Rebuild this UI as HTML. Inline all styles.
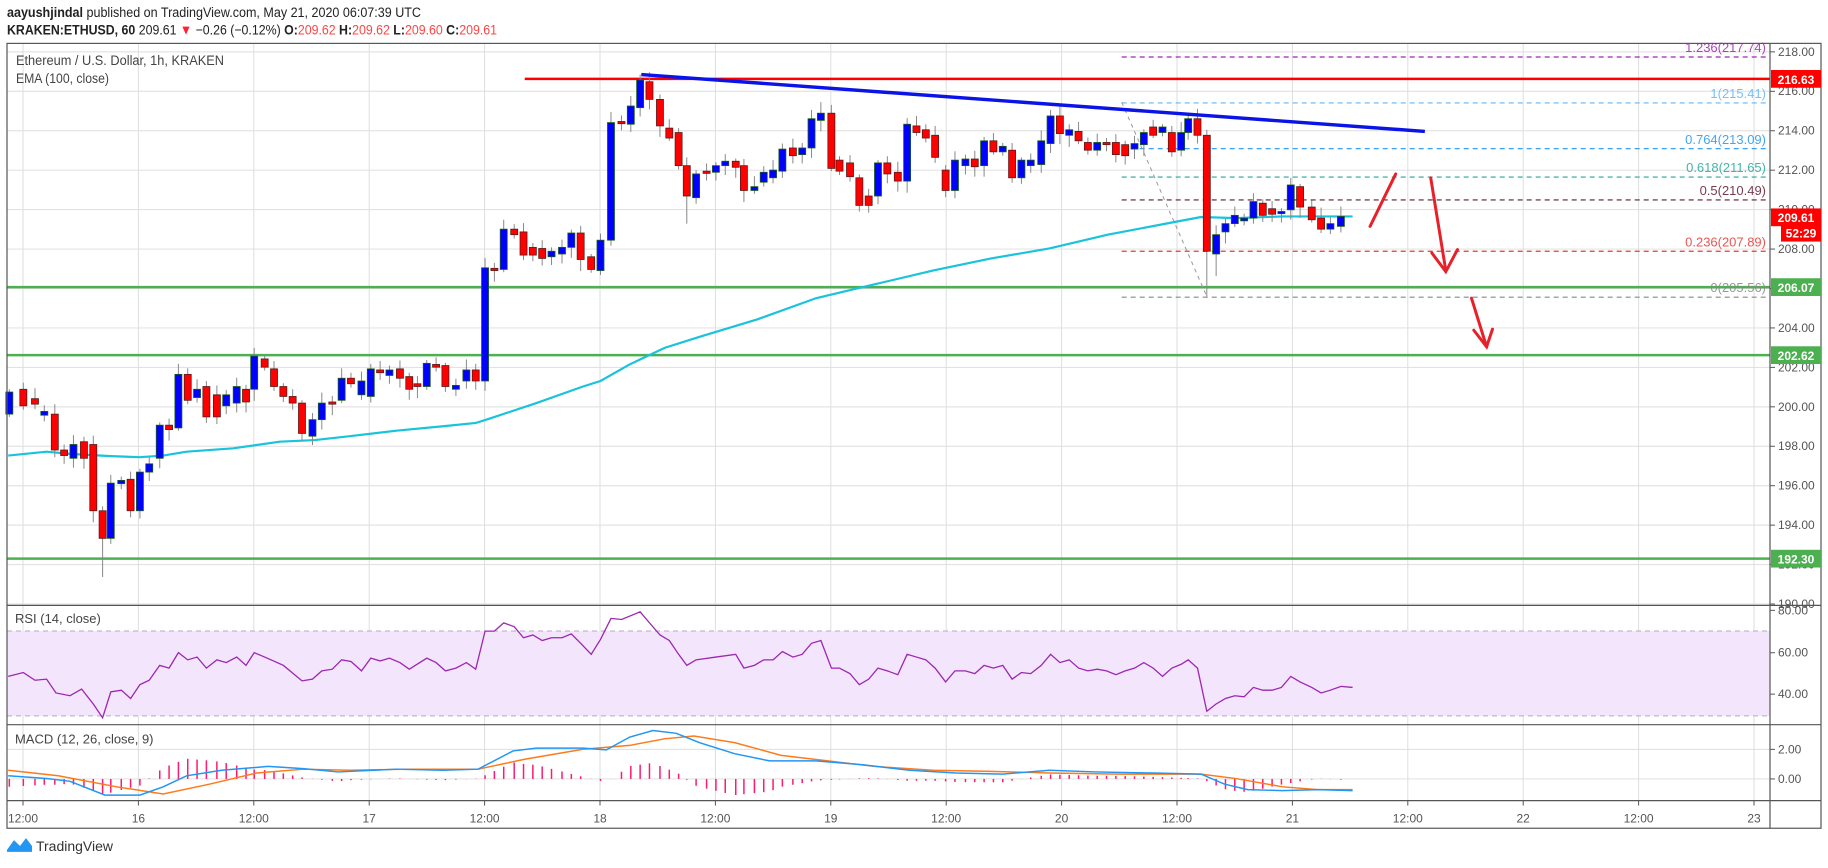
<!DOCTYPE html>
<html><head><meta charset="utf-8">
<style>
html,body{margin:0;padding:0;background:#fff;}
svg{display:block;font-family:"Liberation Sans",sans-serif;}
</style></head>
<body>
<svg id="s" width="1828" height="868" xmlns="http://www.w3.org/2000/svg">
<rect width="1828" height="868" fill="#fff"/>
<g transform="scale(1,0.986)">
<g id="grid"></g>
<rect x="7" y="640" width="1763" height="86" fill="#f3e5fc"/>
<line x1="7" y1="640" x2="1770" y2="640" stroke="#b9a6c4" stroke-dasharray="5,4"/>
<line x1="7" y1="726" x2="1770" y2="726" stroke="#b9a6c4" stroke-dasharray="5,4"/>
<g id="plot"></g>
<rect x="7" y="44" width="1814" height="796" fill="none" stroke="#555" stroke-width="1.2"/>
<line x1="1770" y1="44" x2="1770" y2="840" stroke="#555" stroke-width="1.2"/>
<line x1="7" y1="614" x2="1821" y2="614" stroke="#555" stroke-width="1.2"/>
<line x1="7" y1="735" x2="1821" y2="735" stroke="#555" stroke-width="1.2"/>
<line x1="7" y1="812" x2="1821" y2="812" stroke="#555" stroke-width="1.2"/>
<text x="7" y="17" font-size="14" fill="#222" textLength="414" lengthAdjust="spacingAndGlyphs"><tspan font-weight="bold">aayushjindal</tspan> published on TradingView.com, May 21, 2020 06:07:39 UTC</text>
<text x="7" y="35" font-size="14" fill="#222" textLength="490" lengthAdjust="spacingAndGlyphs"><tspan font-weight="bold">KRAKEN:ETHUSD, 60</tspan> 209.61 <tspan fill="#f23">▼</tspan> −0.26 (−0.12%) <tspan font-weight="bold">O:</tspan><tspan fill="#f44">209.62</tspan> <tspan font-weight="bold">H:</tspan><tspan fill="#f44">209.62</tspan> <tspan font-weight="bold">L:</tspan><tspan fill="#f44">209.60</tspan> <tspan font-weight="bold">C:</tspan><tspan fill="#f44">209.61</tspan></text>
<text x="16" y="66" font-size="14" fill="#444" textLength="208" lengthAdjust="spacingAndGlyphs">Ethereum / U.S. Dollar, 1h, KRAKEN</text>
<text x="16" y="84" font-size="14" fill="#444" textLength="93" lengthAdjust="spacingAndGlyphs">EMA (100, close)</text>
<text x="15" y="632" font-size="13" fill="#444">RSI (14, close)</text>
<text x="15" y="754" font-size="13" fill="#444">MACD (12, 26, close, 9)</text>
<g id="axis" font-size="12" fill="#555"></g>
<path d="M7 862 L14 852 L20 858 L26 850 L32 858 L32 864 L7 864 Z" fill="#2196f3"/>
<text x="36" y="863" font-size="14" fill="#333">TradingView</text>
</g>
</svg>
<script>
const NS="http://www.w3.org/2000/svg";
function el(p,t,a,txt){const e=document.createElementNS(NS,t);for(const k in a)e.setAttribute(k,a[k]);if(txt!==undefined)e.textContent=txt;document.getElementById(p).appendChild(e);return e;}
const X=x=>x*1.166, Y=y=>y*0.56;
const py=p=>52.6+(218-p)*20;
const tl=["12:00","16","12:00","17","12:00","18","12:00","19","12:00","20","12:00","21","12:00","22","12:00","23"];
tl.forEach((l,i)=>{const x=23+i*115.4;el("grid","line",{x1:x,y1:44,x2:x,y2:812,stroke:"#dedede"});el("axis","line",{x1:x,y1:812,x2:x,y2:817,stroke:"#555"});el("axis","text",{x:x,y:834,"text-anchor":"middle"},l);});
for(let p=190;p<=218;p+=2){const y=py(p);el("grid","line",{x1:7,y1:y,x2:1770,y2:y,stroke:"#dedede"});el("axis","line",{x1:1770,y1:y,x2:1775,y2:y,stroke:"#555"});el("axis","text",{x:1778,y:y+4},p.toFixed(2));}
[[60,662],[40,704]].forEach(a=>el("grid","line",{x1:7,y1:a[1],x2:1770,y2:a[1],stroke:"#d6cce0"}));
[["80.00",619],["60.00",662],["40.00",704],["2.00",760],["0.00",790]].forEach(a=>{el("axis","text",{x:1778,y:a[1]+4},a[0]);el("axis","line",{x1:1770,y1:a[1],x2:1775,y2:a[1],stroke:"#555"});});
[760,790].forEach(y=>el("grid","line",{x1:7,y1:y,x2:1770,y2:y,stroke:"#dedede"}));
el("plot","line",{x1:X(450),y1:80,x2:1770,y2:80,stroke:"#f00","stroke-width":2.5});
[291.2,360.2,566.6].forEach(y=>el("plot","line",{x1:7,y1:y,x2:1770,y2:y,stroke:"#4caf50","stroke-width":2.5}));
const fib=[[57.8,"#9c27b0","1.236(217.74)"],[104.4,"#64b5f6","1(215.41)"],[150.8,"#2196f3","0.764(213.09)"],[179.6,"#26a69a","0.618(211.65)"],[202.8,"#5d1a2e","0.5(210.49)"],[254.8,"#e53935","0.236(207.89)"],[301.4,"#888","0(205.56)"]];
fib.forEach(f=>{el("plot","line",{x1:X(962),y1:f[0],x2:1766,y2:f[0],stroke:f[1],"stroke-dasharray":"5,4","stroke-width":1.2});el("plot","text",{x:1766,y:f[0]-5,"text-anchor":"end","font-size":13,fill:f[1],opacity:0.85},f[2]);});
el("plot","line",{x1:X(962),y1:Y(185),x2:X(1035),y2:Y(537),stroke:"#999","stroke-dasharray":"4,4"});
const ema=[[7,825],[40,818],[60,822],[95,826],[120,828],[140,825],[160,818],[200,812],[240,800],[270,797],[300,790],[340,780],[380,772],[408,766],[420,758],[460,730],[500,700],[515,690],[540,660],[570,630],[600,610],[650,578],[700,540],[750,515],[800,490],[850,468],[900,450],[950,425],[1000,405],[1030,393],[1060,395],[1100,392],[1160,392]];
const pts=a=>a.map(p=>X(p[0]).toFixed(1)+","+Y(p[1]).toFixed(1)).join(" ");
el("plot","polyline",{points:pts(ema),fill:"none",stroke:"#19c3dc","stroke-width":2.2});
const c=[[8,710,750,'b'],[20,705,735,'r'],[30,722,732,'r'],[38,745,752,'b'],[47,750,815,'r'],[55,815,825,'r'],[63,805,830,'b'],[72,800,830,'r'],[80,805,925,'r'],[88,925,975,'r'],[95,875,975,'b'],[104,870,876,'b'],[112,868,925,'r'],[120,855,925,'b'],[128,840,855,'b'],[137,770,830,'b'],[145,770,778,'r'],[153,678,775,'b'],[161,678,725,'r'],[169,705,720,'b'],[177,700,755,'r'],[186,715,755,'r'],[194,715,735,'b'],[203,700,730,'b'],[211,705,728,'r'],[218,645,705,'b'],[227,650,665,'r'],[235,668,700,'r'],[243,700,718,'r'],[251,718,730,'r'],[259,730,785,'r'],[268,760,790,'b'],[276,730,760,'b'],[285,728,732,'r'],[293,685,725,'b'],[301,685,695,'r'],[310,690,715,'b'],[318,668,718,'b'],[326,670,675,'r'],[334,670,680,'b'],[343,668,685,'r'],[351,682,705,'r'],[358,695,700,'r'],[366,658,700,'b'],[374,660,665,'r'],[382,662,700,'r'],[391,698,705,'b'],[400,670,690,'b'],[408,670,690,'r'],[416,485,690,'b'],[424,486,490,'r'],[432,415,488,'b'],[441,415,425,'r'],[449,420,462,'r'],[457,448,462,'r'],[465,450,468,'r'],[473,455,465,'b'],[482,448,460,'b'],[490,422,448,'b'],[498,422,470,'r'],[507,465,488,'r'],[515,435,490,'b'],[524,222,435,'b'],[533,220,224,'r'],[541,192,225,'b'],[549,145,195,'b'],[557,148,180,'r'],[566,180,228,'r'],[574,232,250,'r'],[582,240,300,'r'],[589,300,355,'r'],[597,315,358,'b'],[606,310,314,'r'],[614,300,312,'b'],[622,292,300,'b'],[631,292,303,'r'],[638,300,345,'r'],[647,338,345,'b'],[655,312,330,'b'],[663,308,322,'b'],[671,270,310,'b'],[680,268,282,'r'],[688,268,280,'b'],[696,215,268,'b'],[704,205,218,'b'],[713,205,305,'r'],[720,290,310,'r'],[729,295,320,'r'],[737,322,372,'r'],[745,355,372,'r'],[753,295,355,'b'],[761,295,315,'r'],[770,312,328,'r'],[778,225,328,'b'],[786,228,240,'r'],[794,235,250,'r'],[802,245,285,'r'],[811,308,345,'r'],[819,290,345,'b'],[828,288,300,'b'],[836,288,302,'r'],[844,255,300,'b'],[852,255,275,'r'],[860,265,275,'b'],[868,272,322,'r'],[876,290,322,'b'],[884,290,300,'b'],[893,255,298,'b'],[901,210,260,'b'],[909,210,242,'r'],[917,235,245,'b'],[925,238,255,'r'],[933,258,272,'r'],[941,258,272,'b'],[949,258,262,'r'],[957,258,280,'r'],[965,262,282,'r'],[973,260,270,'b'],[981,240,262,'b'],[989,230,245,'r'],[997,230,240,'b'],[1005,240,275,'r'],[1013,240,272,'b'],[1019,215,240,'b'],[1027,215,245,'r'],[1035,245,455,'r'],[1043,425,460,'b'],[1051,405,420,'b'],[1059,390,405,'b'],[1067,395,400,'b'],[1075,365,395,'b'],[1083,368,390,'r'],[1091,378,388,'r'],[1099,383,387,'b'],[1107,335,380,'b'],[1115,338,375,'r'],[1125,375,398,'r'],[1133,395,415,'r'],[1141,405,415,'b'],[1150,392,410,'b']];
const sp={88:[925,1045],1035:[245,537],1043:[425,500],589:[300,405],704:[185,218],95:[870,985]};
c.forEach((k,i)=>{
  let hi=k[1]-(5+((i*37)%15)), lo=k[2]+(5+((i*53)%17));
  if(sp[k[0]]){hi=Math.min(hi,sp[k[0]][0]);lo=Math.max(lo,sp[k[0]][1]);}
  const x=X(k[0]);
  el("plot","line",{x1:x,y1:Y(hi),x2:x,y2:Y(lo),stroke:"#888"});
  let y1=Y(k[1]),h=Math.max(2,Y(k[2])-y1);
  el("plot","rect",{x:x-3.5,y:y1,width:7,height:h,fill:k[3]=='b'?"#0000ff":"#ff0000",stroke:k[3]=='b'?"#1a5c1a":"#5c1a1a","stroke-width":0.8});
});
el("plot","line",{x1:X(550),y1:Y(135),x2:X(1222),y2:Y(238),stroke:"#0a14e6","stroke-width":3.5});
const red="#e8202a";
el("plot","line",{x1:X(1175),y1:Y(410),x2:X(1197),y2:Y(315),stroke:red,"stroke-width":3,"stroke-linecap":"round"});
el("plot","polyline",{points:pts([[1227,322],[1240,490]]),stroke:red,"stroke-width":3,fill:"none","stroke-linecap":"round"});
el("plot","polyline",{points:pts([[1228,458],[1240,492],[1250,452]]),stroke:red,"stroke-width":3,fill:"none","stroke-linecap":"round"});
el("plot","polyline",{points:pts([[1262,540],[1275,628]]),stroke:red,"stroke-width":3,fill:"none","stroke-linecap":"round"});
el("plot","polyline",{points:pts([[1264,598],[1275,628],[1280,596]]),stroke:red,"stroke-width":3,fill:"none","stroke-linecap":"round"});
const rsi=[[7,1225],[20,1218],[30,1232],[40,1230],[48,1255],[60,1260],[70,1248],[80,1275],[88,1300],[95,1253],[104,1250],[112,1265],[120,1240],[128,1232],[137,1205],[145,1210],[153,1182],[161,1195],[169,1190],[177,1210],[186,1195],[194,1200],[203,1190],[211,1205],[218,1182],[227,1190],[243,1205],[259,1233],[268,1230],[276,1215],[285,1212],[293,1195],[301,1198],[310,1215],[318,1192],[326,1197],[334,1192],[343,1200],[351,1212],[366,1192],[374,1200],[382,1215],[391,1210],[400,1200],[408,1212],[416,1143],[424,1143],[432,1128],[441,1135],[449,1155],[457,1150],[465,1160],[473,1155],[482,1155],[490,1148],[498,1165],[507,1185],[515,1158],[524,1120],[533,1122],[549,1108],[557,1128],[566,1150],[574,1160],[582,1185],[589,1205],[597,1195],[614,1190],[631,1185],[638,1210],[647,1205],[655,1195],[663,1195],[671,1180],[680,1190],[688,1185],[696,1165],[704,1160],[713,1210],[720,1210],[729,1220],[737,1240],[745,1230],[753,1210],[761,1215],[770,1222],[778,1185],[786,1190],[794,1195],[802,1210],[811,1235],[819,1215],[828,1215],[836,1220],[844,1205],[852,1210],[860,1205],[868,1230],[876,1218],[884,1220],[893,1205],[901,1185],[909,1200],[917,1195],[925,1210],[933,1215],[941,1212],[949,1215],[957,1222],[965,1215],[973,1210],[981,1200],[989,1210],[997,1225],[1005,1210],[1013,1203],[1019,1195],[1027,1210],[1035,1288],[1043,1275],[1051,1265],[1059,1260],[1067,1262],[1075,1245],[1083,1250],[1091,1250],[1099,1245],[1107,1225],[1115,1235],[1125,1245],[1133,1255],[1141,1250],[1150,1243],[1160,1245]];
el("plot","polyline",{points:pts(rsi),fill:"none",stroke:"#9c27b0","stroke-width":1.3});
const mb=[[7,1405],[40,1410],[60,1415],[90,1440],[120,1440],[140,1425],[160,1405],[190,1395],[230,1388],[260,1392],[290,1398],[340,1393],[380,1395],[410,1393],[440,1360],[460,1355],[500,1355],[520,1358],[540,1335],[560,1323],[580,1328],[600,1345],[630,1365],[660,1378],[700,1378],[740,1385],[780,1395],[820,1400],[860,1402],[900,1395],[940,1398],[990,1400],[1030,1402],[1050,1420],[1070,1430],[1100,1432],[1130,1430],[1160,1432]];
const mo=[[7,1395],[50,1405],[100,1425],[140,1438],[180,1420],[220,1400],[260,1393],[300,1395],[350,1393],[410,1393],[450,1375],[500,1357],[540,1350],[570,1338],[595,1333],[630,1345],[670,1368],[710,1378],[750,1388],[800,1395],[850,1397],[900,1400],[960,1402],[1030,1402],[1060,1410],[1100,1425],[1130,1430],[1160,1430]];
function interp(a,x){for(let i=1;i<a.length;i++){if(x<=a[i][0]){const t=(x-a[i-1][0])/(a[i][0]-a[i-1][0]);return a[i-1][1]+t*(a[i][1]-a[i-1][1]);}}return a[a.length-1][1];}
c.forEach(k=>{const d=(interp(mo,k[0])-interp(mb,k[0]))*1.5;const x=X(k[0]);el("plot","line",{x1:x,y1:790,x2:x,y2:Y(1410-d),stroke:"#ff1a6e","stroke-width":1.5});});
el("plot","polyline",{points:pts(mo),fill:"none",stroke:"#ff7a1a","stroke-width":1.5});
el("plot","polyline",{points:pts(mb),fill:"none",stroke:"#2196f3","stroke-width":1.5});
const bx=[[80,"#f00","216.63"],[220.4,"#f00","209.61"],[291.2,"#4caf50","206.07"],[360.2,"#4caf50","202.62"],[566.6,"#4caf50","192.30"]];
bx.forEach(b=>{el("axis","rect",{x:1771,y:b[0]-9,width:50,height:18,fill:b[1]});el("axis","text",{x:1796,y:b[0]+5,"text-anchor":"middle",fill:"#fff","font-weight":"bold","font-size":12},b[2]);});
el("axis","rect",{x:1781,y:228,width:40,height:17,fill:"#f00"});
el("axis","text",{x:1801,y:241,"text-anchor":"middle",fill:"#fff","font-weight":"bold","font-size":12},"52:29");
</script>
</body></html>
